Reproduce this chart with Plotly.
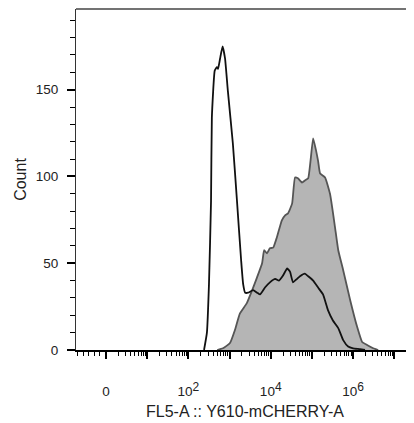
"""Flow cytometry histogram overlay (FL5-A :: Y610-mCHERRY-A)."""
import plotly.graph_objects as go

# x values are in display units of the biexponential axis: 0 -> 0, 10^k -> k
control_x = [2.38, 2.45, 2.50, 2.55, 2.57, 2.64, 2.69, 2.72, 2.77, 2.83, 2.89, 2.96, 3.08, 3.18,
             3.28, 3.33, 3.38, 3.45, 3.57, 3.67, 3.74, 3.86, 3.98, 4.11, 4.20, 4.30, 4.40, 4.47,
             4.54, 4.64, 4.71, 4.83, 4.91, 5.03, 5.15, 5.27, 5.39, 5.51, 5.64, 5.76, 5.88, 6.00,
             6.17, 6.29]
control_count = [0, 10, 38, 86, 134, 161, 163, 162, 168, 175, 168, 149, 119, 86,
                 52, 38, 33, 33, 34.5, 33, 32, 36, 39, 41, 40, 43, 47, 45,
                 39, 41, 42.5, 44, 42.5, 40, 36, 32, 23, 17, 12.6, 5.7, 2, 1,
                 0.5, 0]

sample_x = [2.70, 2.84, 3.01, 3.13, 3.25, 3.42, 3.55, 3.67, 3.79, 3.84, 3.91, 3.98, 4.06, 4.15,
            4.27, 4.35, 4.42, 4.52, 4.59, 4.66, 4.76, 4.83, 4.91, 5.03, 5.10, 5.15, 5.20, 5.32,
            5.44, 5.56, 5.64, 5.76, 5.93, 6.10, 6.22, 6.34, 6.49, 6.61]
sample_count = [0, 1, 4, 11.5, 21, 27, 34.5, 42, 50, 57.5, 55.7, 58.6, 59, 65,
                74.7, 77.6, 78.7, 84.5, 99.4, 99, 96.5, 97.7, 99, 122, 115, 109, 101.7, 99.4,
                90, 71, 57.5, 46, 28.7, 13.2, 4.6, 2.9, 1, 0]

x_major = [0, 1, 2, 3, 4, 5, 6, 7]
sup = "<sup><span style='font-size:12px'>%s</span></sup>"
x_labels = ['0', '', '10' + sup % 2, '', '10' + sup % 4, '', '10' + sup % 6, '']

# minor ticks: linear below zero, log-like inside each decade
x_minor = [-0.70, -0.56, -0.43, -0.29, -0.16]
for d in range(0, 7):
    for m in [0.30, 0.48, 0.60, 0.70, 0.78, 0.85, 0.90, 0.95]:
        x_minor.append(d + m)

fig = go.Figure()

fig.add_trace(go.Scatter(
    x=sample_x, y=sample_count, mode='lines',
    line=dict(color='#555555', width=1.8, shape='spline', smoothing=0.4),
    fill='tozeroy', fillcolor='#b5b5b5', showlegend=False,
))
fig.add_trace(go.Scatter(
    x=control_x, y=control_count, mode='lines',
    line=dict(color='#111111', width=1.8, shape='spline', smoothing=0.4),
    showlegend=False,
))

# the page adds an 8px body margin, so the figure is drawn 8px smaller
fig.update_layout(
    width=406, height=415,
    margin=dict(l=68, r=0, t=1, b=73),
    paper_bgcolor='white', plot_bgcolor='white',
    font=dict(family='Liberation Sans, Arial, sans-serif', size=13.5, color='#222'),
    shapes=[dict(type='line', xref='paper', yref='paper', x0=0, x1=1, y0=1, y1=1,
                 line=dict(color='#444', width=1.5))],
)

fig.update_xaxes(
    range=[-0.73, 7.48], showgrid=False, zeroline=False, automargin=False,
    showline=True, linecolor='black', linewidth=2,
    tickmode='array', tickvals=x_major, ticktext=x_labels,
    ticks='outside', ticklen=7, tickwidth=2, tickcolor='black',
    ticklabelstandoff=21,
    minor=dict(tickmode='array', tickvals=x_minor, ticks='outside', ticklen=4,
               tickwidth=1, tickcolor='black', showgrid=False),
    title=dict(text='FL5-A :: Y610-mCHERRY-A', font=dict(size=16), standoff=8),
)

fig.update_yaxes(
    range=[0, 196.5], showgrid=False, zeroline=False, automargin=False,
    showline=True, linecolor='#333', linewidth=1.2,
    tickmode='array', tickvals=[0, 50, 100, 150],
    ticks='outside', ticklen=8, tickwidth=2, tickcolor='black',
    ticklabelstandoff=6,
    minor=dict(tickmode='array', tickvals=[10, 20, 30, 40, 60, 70, 80, 90, 110, 120, 130, 140, 160, 170, 180, 190],
               ticks='outside', ticklen=5, tickwidth=1, tickcolor='black', showgrid=False),
    title=dict(text='Count', font=dict(size=16), standoff=5),
)

fig.write_html("out.html")
